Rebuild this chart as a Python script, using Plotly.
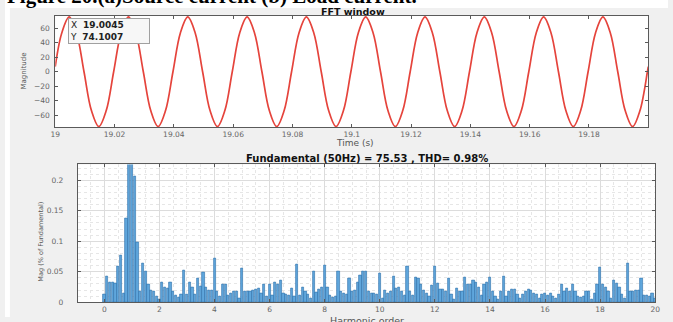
import plotly.graph_objects as go

# ---- Time-domain window (source current, 50 Hz) ----
# sample instants: start of window, then every 1/8 period, then end of window
wave_t = [19.0] + [round(18.9997 + 0.0025 * k, 4) for k in range(1, 81)] + [19.2]
wave_v = [
    7.1,
    53.4, 75.5, 53.4, 0.0, -53.4, -75.5, -53.4, 0.0,
    53.4, 75.5, 53.4, 0.0, -53.4, -75.5, -53.4, 0.0,
    53.4, 75.5, 53.4, 0.0, -53.4, -75.5, -53.4, 0.0,
    53.4, 75.5, 53.4, 0.0, -53.4, -75.5, -53.4, 0.0,
    53.4, 75.5, 53.4, 0.0, -53.4, -75.5, -53.4, 0.0,
    53.4, 75.5, 53.4, 0.0, -53.4, -75.5, -53.4, 0.0,
    53.4, 75.5, 53.4, 0.0, -53.4, -75.5, -53.4, 0.0,
    53.4, 75.5, 53.4, 0.0, -53.4, -75.5, -53.4, 0.0,
    53.4, 75.5, 53.4, 0.0, -53.4, -75.5, -53.4, 0.0,
    53.4, 75.5, 53.4, 0.0, -53.4, -75.5, -53.4, 0.0,
    7.1,
]
time_ticks = [19.0, 19.02, 19.04, 19.06, 19.08, 19.1, 19.12, 19.14, 19.16, 19.18]
time_tick_text = ["19", "19.02", "19.04", "19.06", "19.08", "19.1", "19.12", "19.14", "19.16", "19.18"]
mag_ticks = [-60, -40, -20, 0, 20, 40, 60]
datatip_x, datatip_y = "19.0045", "74.1007"

# ---- Harmonic spectrum (% of fundamental), orders 0.0 .. 20.0 in steps of 0.1 ----
harmonic_orders = [round(i / 10, 1) for i in range(201)]
harmonic_mag = [
    0.013, 0.042, 0.032, 0.032, 0.031, 0.058, 0.077, 0.014, 0.137, 0.350,   # 0.0-0.9
    100.0, 0.206, 0.098, 0.018, 0.063, 0.050, 0.029, 0.020, 0.018, 0.009,  # 1.0-1.9
    0.004, 0.032, 0.024, 0.022, 0.032, 0.018, 0.012, 0.008, 0.013, 0.052,  # 2.0-2.9
    0.013, 0.032, 0.024, 0.013, 0.039, 0.026, 0.049, 0.024, 0.020, 0.019,  # 3.0-3.9
    0.072, 0.017, 0.010, 0.030, 0.030, 0.012, 0.014, 0.017, 0.017, 0.006,  # 4.0-4.9
    0.056, 0.018, 0.018, 0.018, 0.020, 0.021, 0.023, 0.014, 0.029, 0.010,  # 5.0-5.9
    0.029, 0.012, 0.033, 0.030, 0.035, 0.014, 0.013, 0.012, 0.022, 0.010,  # 6.0-6.9
    0.062, 0.012, 0.024, 0.017, 0.013, 0.006, 0.051, 0.016, 0.021, 0.025,  # 7.0-7.9
    0.061, 0.024, 0.012, 0.008, 0.009, 0.050, 0.017, 0.014, 0.013, 0.039,  # 8.0-8.9
    0.017, 0.020, 0.033, 0.044, 0.050, 0.051, 0.017, 0.014, 0.014, 0.013,  # 9.0-9.9
    0.048, 0.006, 0.020, 0.014, 0.017, 0.042, 0.022, 0.025, 0.017, 0.012,  # 10.0-10.9
    0.059, 0.017, 0.012, 0.041, 0.039, 0.029, 0.020, 0.014, 0.010, 0.028,  # 11.0-11.9
    0.059, 0.031, 0.021, 0.021, 0.017, 0.039, 0.013, 0.005, 0.022, 0.017,  # 12.0-12.9
    0.017, 0.041, 0.029, 0.029, 0.035, 0.032, 0.025, 0.012, 0.029, 0.033,  # 13.0-13.9
    0.041, 0.017, 0.010, 0.005, 0.017, 0.042, 0.010, 0.017, 0.021, 0.021,  # 14.0-14.9
    0.013, 0.006, 0.013, 0.017, 0.021, 0.019, 0.014, 0.013, 0.006, 0.013,  # 15.0-15.9
    0.015, 0.012, 0.015, 0.010, 0.006, 0.013, 0.029, 0.017, 0.022, 0.017,  # 16.0-16.9
    0.029, 0.017, 0.010, 0.008, 0.010, 0.017, 0.017, 0.004, 0.014, 0.029,  # 17.0-17.9
    0.057, 0.029, 0.024, 0.017, 0.006, 0.036, 0.031, 0.025, 0.013, 0.006,  # 18.0-18.9
    0.063, 0.017, 0.017, 0.020, 0.020, 0.039, 0.012, 0.012, 0.010, 0.015,  # 19.0-19.9
    0.006,                                                                 # 20.0
]
order_ticks = [0, 2, 4, 6, 8, 10, 12, 14, 16, 18, 20]
pct_ticks = [0, 0.05, 0.1, 0.15, 0.2]
pct_tick_text = ["0", "0.05", "0.1", "0.15", "0.2"]

fundamental_title = "Fundamental (50Hz) = 75.53 , THD= 0.98%"
caption = "Figure 20.(a)Source current (b) Load current."

# ---- page geometry (pixels) ----
W, H = 673, 322


def px_x(x):
    return x / W


def px_y(y):
    return 1 - y / H


FONT = "DejaVu Sans"
TICK_FONT = dict(family=FONT, size=7.5, color="#666666")
AXIS_LINE = "#5a5a5a"

fig = go.Figure()

fig.add_trace(go.Scatter(
    x=wave_t, y=wave_v, mode="lines",
    line=dict(color="#e5443c", width=1.7, shape="spline", smoothing=1.0),
    xaxis="x", yaxis="y", hoverinfo="skip", showlegend=False,
))

fig.add_trace(go.Bar(
    x=harmonic_orders, y=harmonic_mag, width=0.08,
    marker=dict(color="#5fa6dc", line=dict(color="#2f71aa", width=0.6)),
    xaxis="x2", yaxis="y2", showlegend=False,
))

common_axis = dict(
    showline=True, linecolor=AXIS_LINE, linewidth=1, mirror="ticks",
    ticks="inside", ticklen=3, tickcolor=AXIS_LINE, zeroline=False,
    tickfont=TICK_FONT,
)

fig.update_layout(
    width=W, height=H,
    margin=dict(l=0, r=0, t=0, b=0),
    paper_bgcolor="#f0f0f0",
    plot_bgcolor="#ffffff",
    bargap=0,
    xaxis=dict(
        domain=[px_x(51), px_x(653)], range=[19.0, 19.2], anchor="y",
        tickvals=time_ticks, ticktext=time_tick_text, showgrid=False,
        ticklabelstandoff=0, **common_axis,
    ),
    yaxis=dict(
        domain=[px_y(129), px_y(16)], range=[-76, 77], anchor="x",
        tickvals=mag_ticks, showgrid=False, ticklabelstandoff=3,
        **common_axis,
    ),
    xaxis2=dict(
        domain=[px_x(74), px_x(660)], range=[-0.96, 20.0], anchor="y2",
        tickvals=order_ticks, showgrid=True, gridcolor="#dcdcdc", gridwidth=1,
        minor=dict(dtick=0.5, tick0=0, showgrid=True, gridcolor="#e6e6e6",
                   griddash="dot", ticks=""),
        ticklabelstandoff=0, **common_axis,
    ),
    yaxis2=dict(
        domain=[px_y(307), px_y(167)], range=[0, 0.226], anchor="x2",
        tickvals=pct_ticks, ticktext=pct_tick_text,
        showgrid=True, gridcolor="#dcdcdc", gridwidth=1,
        minor=dict(dtick=0.01, tick0=0, showgrid=True, gridcolor="#e6e6e6",
                   griddash="dot", ticks=""),
        ticklabelstandoff=12, **common_axis,
    ),
    shapes=[
        # white page strip behind the caption and down the left edge
        dict(type="rect", xref="paper", yref="paper", x0=0, x1=1,
             y0=px_y(8), y1=1, fillcolor="#ffffff", line=dict(width=0), layer="below"),
        dict(type="rect", xref="paper", yref="paper", x0=0, x1=px_x(5),
             y0=0, y1=1, fillcolor="#ffffff", line=dict(width=0), layer="below"),
    ],
)

annotations = [
    dict(text="<b>" + caption + "</b>", x=px_x(0), y=px_y(-4), xanchor="left", yanchor="middle",
         font=dict(family="Liberation Serif", size=21, color="#000000")),
    dict(text="<b>FFT window</b>", x=px_x(353), y=px_y(11.5), xanchor="center", yanchor="middle",
         font=dict(family=FONT, size=9.5, color="#111111")),
    dict(text="Time (s)", x=px_x(355), y=px_y(145), xanchor="center", yanchor="middle",
         font=dict(family=FONT, size=9, color="#555555")),
    dict(text="Magnitude", x=px_x(19), y=px_y(72), xanchor="center", yanchor="middle",
         textangle=-90, font=dict(family=FONT, size=7, color="#555555")),
    dict(text="<b>" + fundamental_title + "</b>", x=px_x(367), y=px_y(161), xanchor="center",
         yanchor="middle", font=dict(family=FONT, size=10, color="#111111")),
    dict(text="Mag (% of Fundamental)", x=px_x(37), y=px_y(245), xanchor="center", yanchor="middle",
         textangle=-90, font=dict(family=FONT, size=6.5, color="#555555")),
    dict(text="Harmonic order", x=px_x(367), y=px_y(318), xanchor="center", yanchor="top",
         font=dict(family=FONT, size=9.5, color="#555555")),
    # data tip on the first crest
    dict(text="X  <b>" + datatip_x + "</b><br>Y  <b>" + datatip_y + "</b>",
         x=px_x(64), y=px_y(18), xanchor="left", yanchor="top", align="left",
         width=78, height=22, bgcolor="#f7f7f7", bordercolor="#a0a0a0", borderwidth=1,
         font=dict(family=FONT, size=9, color="#222222")),
]
for a in annotations:
    a.setdefault("xref", "paper")
    a.setdefault("yref", "paper")
    a.setdefault("showarrow", False)
fig.update_layout(annotations=annotations)

fig.write_html("out.html")
